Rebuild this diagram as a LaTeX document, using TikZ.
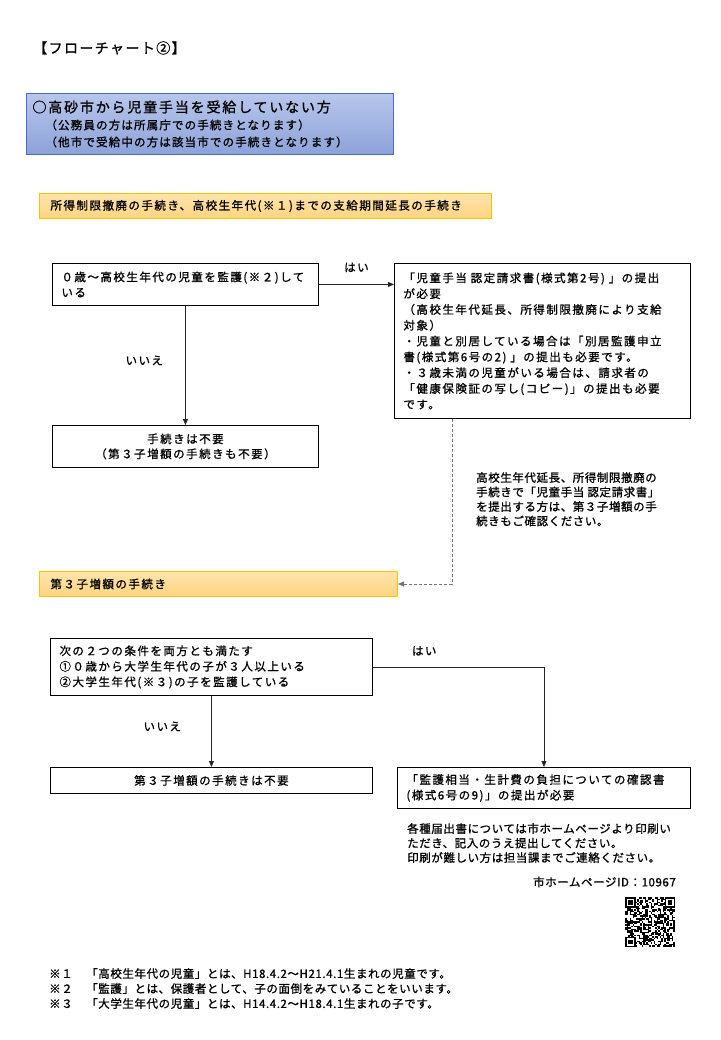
\documentclass[tikz,border=0pt]{standalone}
\usepackage{fontspec}
\setmainfont{Noto Sans CJK JP}[LetterSpace=5, FakeBold=1]
\newfontfamily\jpB{Noto Sans CJK JP}[LetterSpace=10, FakeBold=1]
\newfontfamily\jpC{Noto Sans CJK JP}[LetterSpace=13, FakeBold=1]
\usetikzlibrary{positioning, arrows.meta}

\definecolor{hdrtop}{HTML}{B8C6EC}
\definecolor{hdrbot}{HTML}{8CA2D8}
\definecolor{hdrline}{HTML}{4A6CC0}
\definecolor{bantop}{HTML}{FFE4AC}
\definecolor{banbot}{HTML}{FDD480}
\definecolor{banline}{HTML}{FFC000}

\begin{document}
\begin{tikzpicture}[
        x=1pt, y=-1pt,
        every node/.style={inner sep=0pt, font=\fontsize{11.5}{15}\selectfont},
        title/.style={anchor=west, font=\jpB\fontsize{14}{16}\selectfont},
        header/.style={draw=hdrline, line width=1pt, top color=hdrtop, bottom color=hdrbot,
                       anchor=north west, minimum width=367pt, minimum height=61pt,
                       text width=355pt, inner xsep=6pt, align=left,
                       font=\jpB\fontsize{11.5}{17}\selectfont},
        banner/.style={draw=banline, line width=1pt, top color=bantop, bottom color=banbot,
                       anchor=north west, minimum height=25pt, inner xsep=11pt, align=left,
                       font=\jpC\fontsize{11.5}{15}\selectfont},
        qbox/.style={draw, line width=0.9pt, anchor=north west, inner xsep=9pt, align=left,
                     font=\jpC\fontsize{11.5}{15.5}\selectfont},
        abox/.style={draw, line width=0.9pt, anchor=north west, inner xsep=8pt, align=center,
                     font=\jpC\fontsize{11.5}{15}\selectfont},
        note/.style={anchor=north west, align=left, font=\fontsize{11.5}{14.5}\selectfont},
        yesno/.style={font=\jpC\fontsize{11.5}{15}\selectfont},
        arrow/.style={-{Triangle[length=6pt, width=5pt]}, line width=0.8pt, draw=black!85},
        dasharrow/.style={-{Triangle[length=6pt, width=5pt]}, line width=0.9pt, draw=black!55,
                          dash pattern=on 3pt off 2pt}
    ]
    \fill[white] (0,0) rectangle (720,1040);
    \useasboundingbox (0,0) rectangle (720,1040);

    % Title and header ------------------------------------
    \node[title] (ttl) at (33,48) {【フローチャート②】};
    \node[header] (hdr) at (26,93)
        {{\jpC\fontsize{14}{17}\selectfont ○高砂市から児童手当を受給していない方}\\
         \hspace*{13pt}（公務員の方は所属庁での手続きとなります）\\
         \hspace*{13pt}（他市で受給中の方は該当市での手続きとなります）};

    % Section 1 -------------------------------------------
    \node[banner, minimum width=452pt, text width=430pt] (ban1) at (39,193)
        {所得制限撤廃の手続き、高校生年代(※１)までの支給期間延長の手続き};
    \node[qbox, minimum width=266pt, minimum height=42pt, text width=248pt] (age) at (52,263)
        {０歳～高校生年代の児童を監護(※２)して\\いる};
    \node[qbox, minimum width=294pt, minimum height=155pt, text width=278pt,
          font=\jpC\fontsize{11.5}{15.8}\selectfont] (claim) at (394,263)
        {「児童手当 認定請求書(様式第2号) 」の提出\\
         が必要\\
         （高校生年代延長、所得制限撤廃により支給\\
         対象）\\
         ・児童と別居している場合は「別居監護申立\\
         書(様式第6号の2) 」の提出も必要です。\\
         ・３歳未満の児童がいる場合は、請求者の\\
         「健康保険証の写し(コピー)」の提出も必要\\
         です。};
    \node[abox, minimum width=266pt, minimum height=42pt, text width=250pt] (nofirst) at (52,425)
        {手続きは不要\\（第３子増額の手続きも不要）};
    \node[note] (remind) at (476,472)
        {高校生年代延長、所得制限撤廃の\\
         手続きで「児童手当 認定請求書」\\
         を提出する方は、第３子増額の手\\
         続きもご確認ください。};

    % Section 2 -------------------------------------------
    \node[banner, minimum width=358pt, text width=336pt] (ban2) at (39,571) {第３子増額の手続き};
    \node[qbox, minimum width=322pt, minimum height=57pt, text width=304pt] (third) at (50,638)
        {次の２つの条件を両方とも満たす\\
         ①０歳から大学生年代の子が３人以上いる\\
         ②大学生年代(※３)の子を監護している};
    \node[abox, minimum width=322pt, minimum height=26pt, text width=306pt] (nothird) at (50,767)
        {第３子増額の手続きは不要};
    \node[qbox, minimum width=291pt, minimum height=41pt, text width=275pt] (confirm) at (397,767)
        {「監護相当・生計費の負担についての確認書\\(様式6号の9)」の提出が必要};

    % Notes -----------------------------------------------
    \node[note] (forms) at (407,823)
        {各種届出書については市ホームページより印刷い\\
         ただき、記入のうえ提出してください。\\
         印刷が難しい方は担当課までご連絡ください。};
    \node[anchor=east] (pageid) at (676,882) {市ホームページID：10967};
    \node[note, font=\fontsize{11.5}{15}\selectfont] (foot) at (49,968)
        {\makebox[37pt][l]{※１}「高校生年代の児童」とは、H18.4.2～H21.4.1生まれの児童です。\\
         \makebox[37pt][l]{※２}「監護」とは、保護者として、子の面倒をみていることをいいます。\\
         \makebox[37pt][l]{※３}「大学生年代の児童」とは、H14.4.2～H18.4.1生まれの子です。};

    % QR code
    \pgfmathsetseed{4711}
    \foreach \i in {0,...,32}{
        \foreach \j in {0,...,32}{
            \pgfmathrandominteger{\bit}{0}{1}
            \ifnum\bit=1 \fill (625+1.5*\i,897+1.5*\j) rectangle ++(1.5,1.5); \fi
        }
    }
    \foreach \qx/\qy in {625/897, 664.5/897, 625/936.5}{
        \fill[white] (\qx,\qy) rectangle ++(10.5,10.5);
        \fill (\qx,\qy) rectangle ++(10.5,10.5);
        \fill[white] (\qx+1.5,\qy+1.5) rectangle ++(7.5,7.5);
        \fill (\qx+3,\qy+3) rectangle ++(4.5,4.5);
    }

    % Connectors ------------------------------------------
    \draw[arrow] (age.east) -- (age.east -| claim.west)
        node[midway, above=12pt, yesno] {はい};
    \draw[arrow] (age.south) -- (nofirst.north)
        node[midway, left=22pt, yshift=5pt, yesno] {いいえ};
    \coordinate (dashtop) at ([xshift=58pt]claim.south west);
    \draw[dasharrow] (dashtop) |- (ban2.east);

    \draw[arrow] (third.east) -| (confirm.north)
        node[pos=0.15, above=11pt, yesno] {はい};
    \draw[arrow] (third.south) -- (nothird.north)
        node[midway, left=30pt, yshift=5pt, yesno] {いいえ};
\end{tikzpicture}
\end{document}
